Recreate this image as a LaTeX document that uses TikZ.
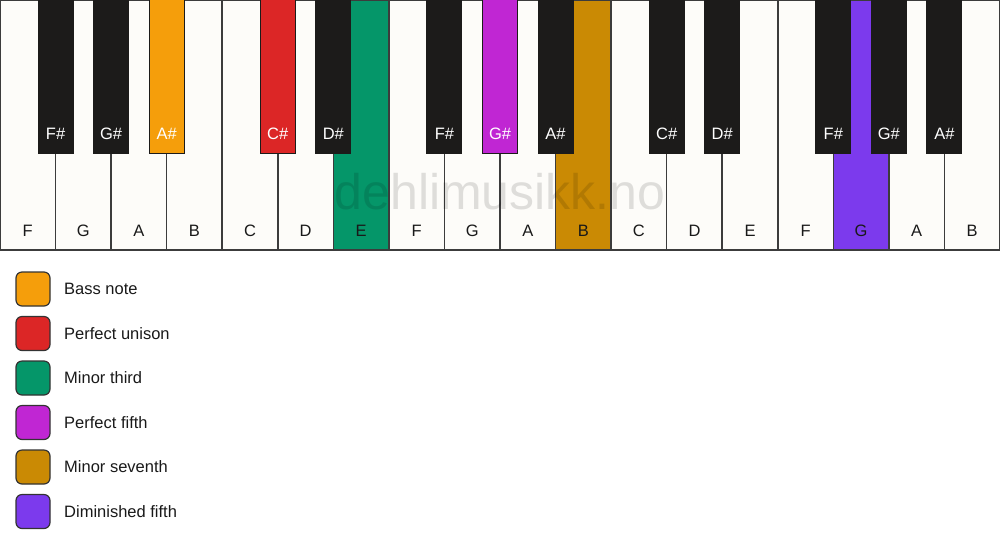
\documentclass[tikz,border=0pt]{standalone}
\usepackage{fontspec}
\setmainfont{Liberation Sans}
\usetikzlibrary{positioning}
\begin{document}
\begin{tikzpicture}[x=1pt, y=-1pt, font=\fontsize{16.5}{19}\selectfont]
	\definecolor{keyline}{HTML}{3C3C3C}
	\definecolor{ivory}{HTML}{FDFCF9}
	\definecolor{ebony}{HTML}{1C1B1A}
	\definecolor{bassnote}{HTML}{F59E0B}
	\definecolor{unison}{HTML}{DC2626}
	\definecolor{third}{HTML}{059669}
	\definecolor{fifth}{HTML}{C026D3}
	\definecolor{seventh}{HTML}{CA8A04}
	\definecolor{dimfifth}{HTML}{7C3AED}
	\tikzset{
		whitekey/.style={draw=keyline, line width=1.5pt},
		blackkey/.style={draw=ebony, line width=1pt},
		keylabel/.style={anchor=base, inner sep=0pt, text=black!90},
		sharplabel/.style={keylabel, text=white},
		swatch/.style={draw=black!80, line width=1.2pt, rounded corners=6pt,
			minimum size=34pt, inner sep=0pt, outer sep=0pt},
		legendtext/.style={inner sep=0pt, text=black!90},
	}
	\useasboundingbox (0, 0) rectangle (1000, 550);

	% white keys
	\foreach \name/\tint [count=\i from 0] in {F/ivory, G/ivory, A/ivory, B/ivory,
			C/ivory, D/ivory, E/third, F/ivory, G/ivory, A/ivory, B/seventh, C/ivory,
			D/ivory, E/ivory, F/ivory, G/dimfifth, A/ivory, B/ivory} {
		\draw[whitekey, fill=\tint] (\i*55.556, 0) rectangle ++(55.556, 250);
		\node[keylabel] (w\i) at (\i*55.556+27.778, 236) {\name};
	}

	% black keys, centred on the boundary between two white keys
	\foreach \k/\name/\tint in {1/F\#/ebony, 2/G\#/ebony, 3/A\#/bassnote, 5/C\#/unison,
			6/D\#/ebony, 8/F\#/ebony, 9/G\#/fifth, 10/A\#/ebony, 12/C\#/ebony,
			13/D\#/ebony, 15/F\#/ebony, 16/G\#/ebony, 17/A\#/ebony} {
		\draw[blackkey, fill=\tint] (\k*55.556-17.5, -1) rectangle ++(35, 154);
		\node[sharplabel] (b\k) at (\k*55.556, 139) {\name};
	}

	\node[black, opacity=0.12, font=\fontsize{50}{54}\selectfont] (brand) at (500, 192) {dehlimusikk.no};

	% legend
	\node[swatch, fill=bassnote] (bass) at (33, 289) {};
	\node[swatch, fill=unison, below=10.5pt of bass] (uni) {};
	\node[swatch, fill=third, below=10.5pt of uni] (min3) {};
	\node[swatch, fill=fifth, below=10.5pt of min3] (p5) {};
	\node[swatch, fill=seventh, below=10.5pt of p5] (min7) {};
	\node[swatch, fill=dimfifth, below=10.5pt of min7] (dim5) {};

	\node[legendtext, right=14pt of bass] (bass text) {Bass note};
	\node[legendtext, right=14pt of uni] (uni text) {Perfect unison};
	\node[legendtext, right=14pt of min3] (min3 text) {Minor third};
	\node[legendtext, right=14pt of p5] (p5 text) {Perfect fifth};
	\node[legendtext, right=14pt of min7] (min7 text) {Minor seventh};
	\node[legendtext, right=14pt of dim5] (dim5 text) {Diminished fifth};
\end{tikzpicture}
\end{document}
